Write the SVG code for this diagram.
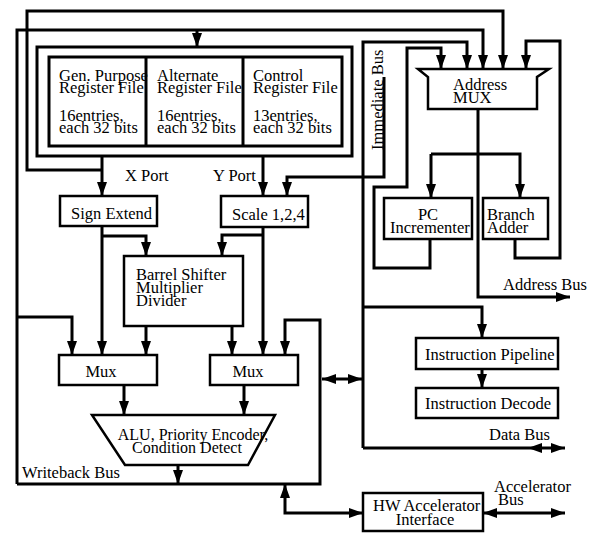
<svg xmlns="http://www.w3.org/2000/svg" width="594" height="533" viewBox="0 0 594 533">
<style>
text{font-family:"Liberation Serif","Times New Roman",serif;font-size:16.5px;fill:#000}
.box{fill:#fff;stroke:#000;stroke-width:2.5}
.frame{fill:none;stroke:#000;stroke-width:3}
.c{fill:none;stroke:#000;stroke-width:3;stroke-linejoin:miter}
.a{marker-end:url(#ah)}
.b{marker-start:url(#ah);marker-end:url(#ah)}
</style>
<defs>
<marker id="ah" viewBox="0 0 14 10" refX="14" refY="5" markerWidth="14" markerHeight="10" markerUnits="userSpaceOnUse" orient="auto-start-reverse">
<path d="M0,0 L14,5 L0,10 z" fill="#000"/>
</marker>
</defs>
<rect width="594" height="533" fill="#fff"/>

<g id="connectors">
<path class="c a" d="M102,170 L27,170 L27,11 L503,11 L503,69"/>
<path class="c a" d="M17,484 L17,30 L483,30 L483,69"/>
<path class="c a" d="M197,30 L197,47"/>
<path class="c a" d="M17,484 L320,484 L320,320 L285,320 L285,355"/>
<path class="c a" d="M17,317 L72,317 L72,355"/>
<path class="c a" d="M102,157 L102,196"/>
<path class="c a" d="M263,157 L263,196"/>
<path class="c a" d="M384,77 L384,177 L287,177 L287,196"/>
<path class="c a" d="M102,226 L102,355"/>
<path class="c a" d="M102,236 L146,236 L146,256"/>
<path class="c a" d="M263,227 L263,355"/>
<path class="c a" d="M263,235 L222,235 L222,256"/>
<path class="c a" d="M146,326 L146,355"/>
<path class="c a" d="M232,326 L232,355"/>
<path class="c a" d="M124,385 L124,415"/>
<path class="c a" d="M244,385 L244,415"/>
<path class="c a" d="M178,465 L178,484"/>
<path class="c a" d="M363,448 L363,42 L467,42 L467,69"/>
<path class="c a" d="M363,307 L482,307 L482,338"/>
<path class="c" d="M363,448 L528,448"/>
<path class="c b" d="M528,448 L565,448"/>
<path class="c b" d="M322,379 L362,379"/>
<path class="c a" d="M430,239 L430,268 L374,268 L374,187 L407,187 L407,48 L441,48 L441,69"/>
<path class="c a" d="M515,239 L515,258 L560,258 L560,41 L526,41 L526,69"/>
<path class="c a" d="M478,109 L478,297 L570,297"/>
<path class="c a" d="M431,154 L520,154 L520,198"/>
<path class="c a" d="M431,154 L431,198"/>
<path class="c a" d="M482,369 L482,388"/>
<path class="c b" d="M285,484 L285,513 L363,513"/>
<path class="c b" d="M483,513 L565,513"/>
</g>

<g id="register-files">
<rect class="frame" x="37" y="47" width="315" height="109"/>
<rect class="frame" x="49" y="57" width="293" height="89"/>
<line class="frame" x1="146" y1="57" x2="146" y2="146"/>
<line class="frame" x1="243" y1="57" x2="243" y2="146"/>
<g id="gp-regfile">
<text x="59" y="81">Gen. Purpose</text>
<text x="59" y="93">Register File</text>
<text x="59" y="121">16entries,</text>
<text x="59" y="133">each 32 bits</text>
</g>
<g id="alt-regfile">
<text x="157" y="81">Alternate</text>
<text x="157" y="93">Register File</text>
<text x="157" y="121">16entries,</text>
<text x="157" y="133">each 32 bits</text>
</g>
<g id="ctrl-regfile">
<text x="253" y="81">Control</text>
<text x="253" y="93">Register File</text>
<text x="253" y="121">13entries,</text>
<text x="253" y="133">each 32 bits</text>
</g>
</g>

<g id="address-mux">
<polygon class="box" points="418,69 549,69 537,77 537,109 428,109 428,77"/>
<text x="453" y="90">Address</text>
<text x="453" y="103">MUX</text>
</g>

<g id="pc-incrementer">
<rect class="box" x="384" y="198" width="88" height="41"/>
<text x="428" y="220" text-anchor="middle">PC</text>
<text x="390" y="233">Incrementer</text>
</g>

<g id="branch-adder">
<rect class="box" x="483" y="198" width="65" height="41"/>
<text x="487" y="220">Branch</text>
<text x="487" y="233">Adder</text>
</g>

<g id="sign-extend">
<rect class="box" x="60" y="196" width="97" height="30"/>
<text x="71" y="219">Sign Extend</text>
</g>

<g id="scale">
<rect class="box" x="221" y="196" width="87" height="31"/>
<text x="232" y="220">Scale 1,2,4</text>
</g>

<g id="barrel-shifter">
<rect class="box" x="124" y="256" width="119" height="70"/>
<text x="136" y="280">Barrel Shifter</text>
<text x="136" y="293">Multiplier</text>
<text x="136" y="306">Divider</text>
</g>

<g id="mux-left">
<rect class="box" x="59" y="355" width="98" height="30"/>
<text x="101" y="377" text-anchor="middle">Mux</text>
</g>

<g id="mux-right">
<rect class="box" x="210" y="355" width="88" height="30"/>
<text x="248" y="377" text-anchor="middle">Mux</text>
</g>

<g id="alu">
<polygon class="box" points="92,415 275,415 248,465 125,465"/>
<text x="193" y="440" text-anchor="middle" style="font-size:16px">ALU, Priority Encoder,</text>
<text x="187" y="453" text-anchor="middle" style="font-size:16px">Condition Detect</text>
</g>

<g id="instruction-pipeline">
<rect class="box" x="416" y="338" width="142" height="31"/>
<text x="425" y="360">Instruction Pipeline</text>
</g>

<g id="instruction-decode">
<rect class="box" x="416" y="388" width="142" height="30"/>
<text x="425" y="409">Instruction Decode</text>
</g>

<g id="hw-accelerator">
<rect class="box" x="363" y="493" width="120" height="38"/>
<text x="373" y="511">HW Accelerator</text>
<text x="425" y="525" text-anchor="middle">Interface</text>
</g>

<g id="labels">
<text x="125" y="181">X Port</text>
<text x="213" y="181">Y Port</text>
<text transform="translate(383,150) rotate(-90)">Immediate Bus</text>
<text x="503" y="290">Address Bus</text>
<text x="489" y="440">Data Bus</text>
<text x="494" y="492">Accelerator</text>
<text x="498" y="505">Bus</text>
<text x="22" y="478">Writeback Bus</text>
</g>
</svg>
